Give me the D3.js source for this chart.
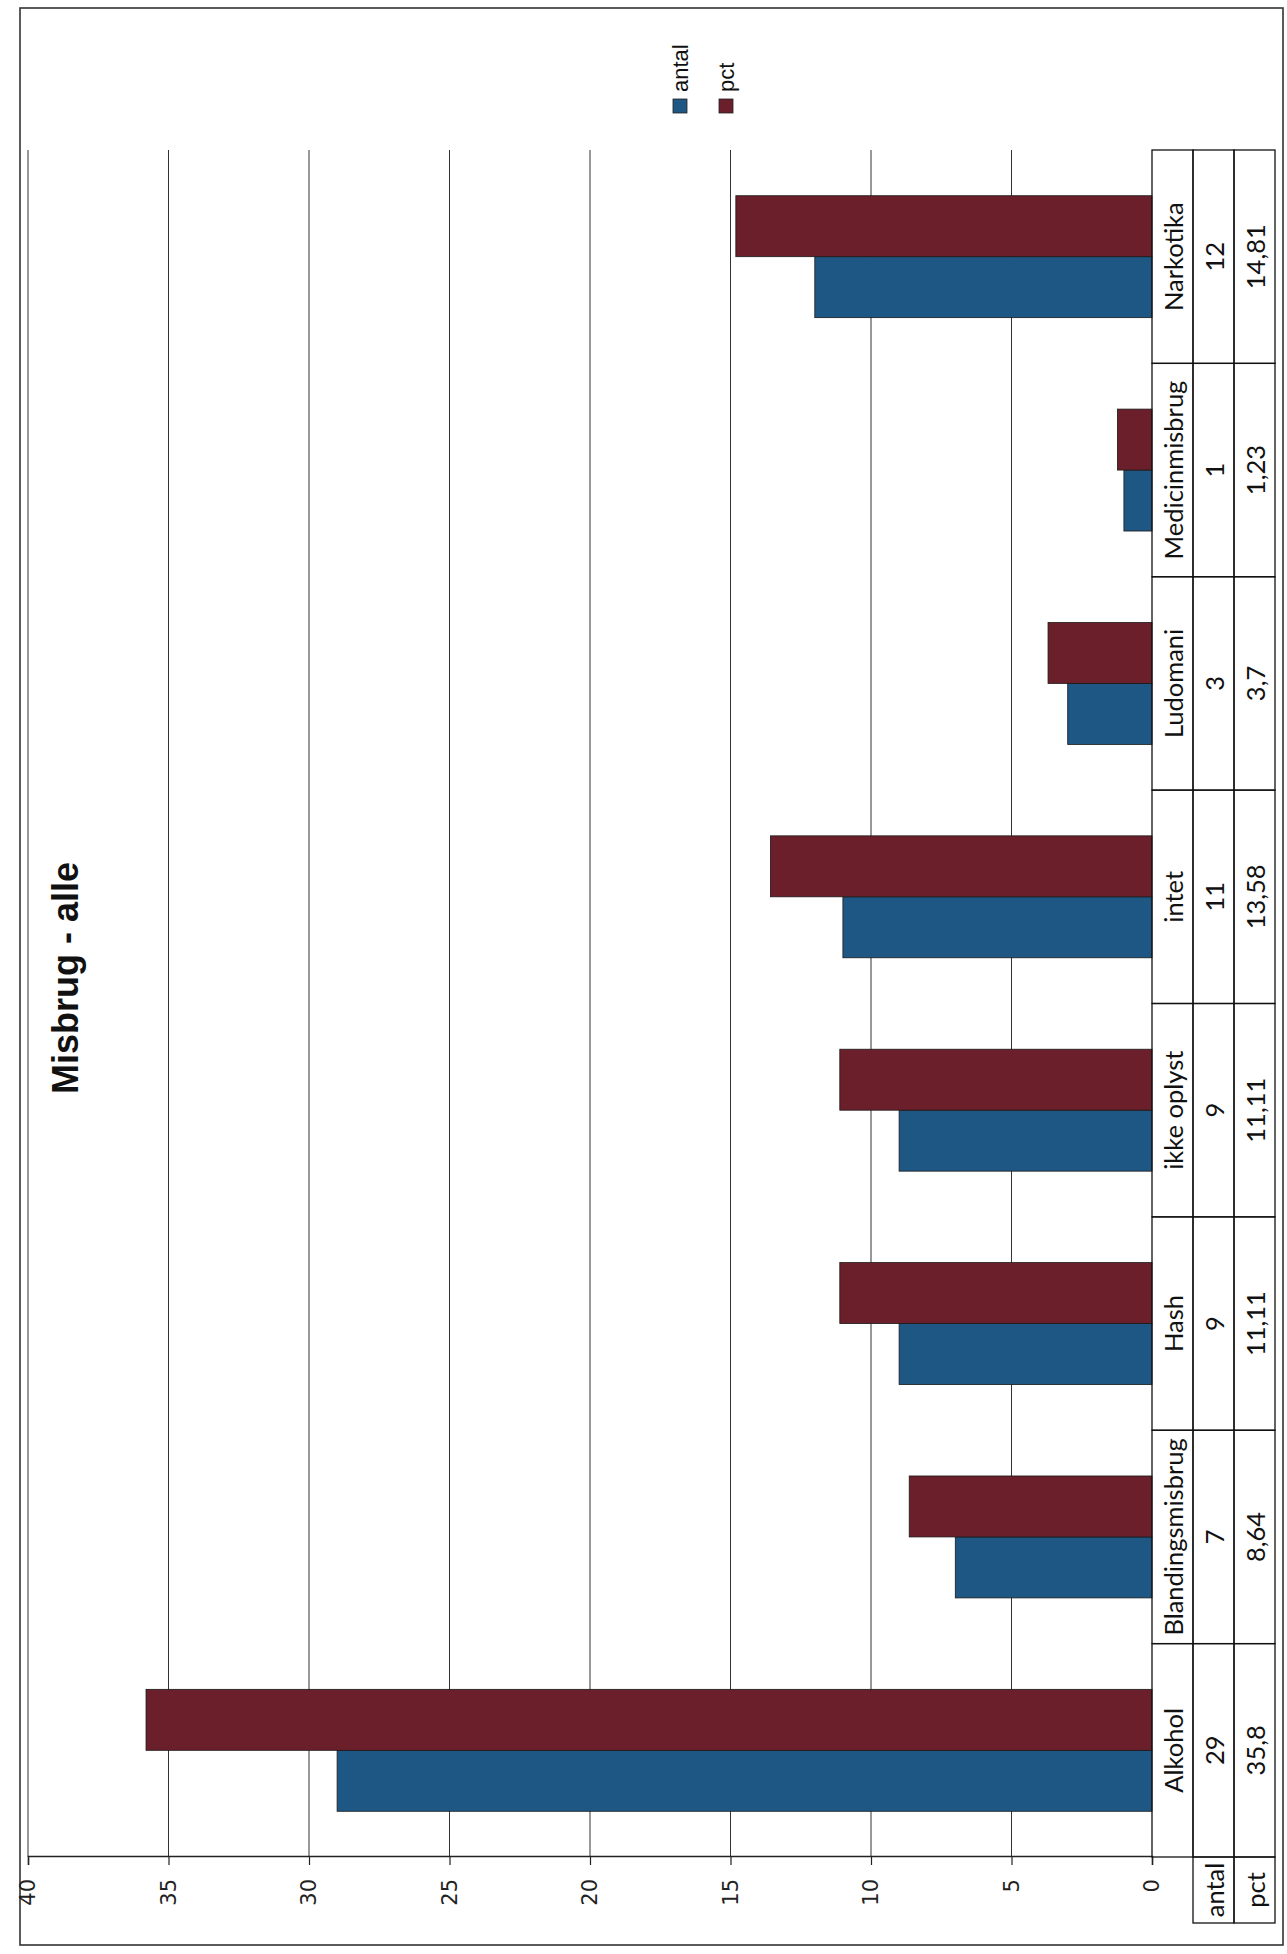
<!DOCTYPE html>
<html><head><meta charset="utf-8">
<script src="https://cdn.jsdelivr.net/npm/d3@7"></script>
<style>body{margin:0;background:#fff}</style>
</head><body><svg id="c" width="1287" height="1954"></svg>
<script>
const categories = ["Alkohol","Blandingsmisbrug","Hash","ikke oplyst","intet","Ludomani","Medicinmisbrug","Narkotika"];
const antal = [29,7,9,9,11,3,1,12];
const pct = [35.8,8.64,11.11,11.11,13.58,3.7,1.23,14.81];
const antalLabels = ["29","7","9","9","11","3","1","12"];
const pctLabels = ["35,8","8,64","11,11","11,11","13,58","3,7","1,23","14,81"];
const seriesNames = ["antal","pct"];
const seriesColors = ["#1e5783","#6b1f2b"];
const yTicks = [0,5,10,15,20,25,30,35,40];
const title = "Misbrug - alle";

const svg = d3.select("#c");
svg.append("rect").attr("width",1287).attr("height",1954).attr("fill","#fff");
// chart is drawn unrotated (1954 wide x 1287 tall) then turned -90deg like the scanned page
const g = svg.append("g").attr("transform","translate(0,1954) rotate(-90)");

const x = d3.scaleBand().domain(categories).range([97,1804]).padding(0);
const y = d3.scaleLinear().domain([0,40]).range([1152,28]);
const bw = x.bandwidth()/3.5;
const xs = d3.scaleBand().domain(seriesNames).range([0,2*bw]).padding(0);

// outer frame
g.append("rect").attr("x",9).attr("y",20).attr("width",1937).attr("height",1263)
  .attr("fill","none").attr("stroke","#333").attr("stroke-width",1.6);

// gridlines
g.append("g").selectAll("line").data(yTicks.filter(d=>d>0)).join("line")
  .attr("x1",97).attr("x2",1804).attr("y1",d=>y(d)).attr("y2",d=>y(d))
  .attr("stroke","#333").attr("stroke-width",1);

// value axis
const axis = d3.axisLeft(y).tickValues(yTicks).tickSize(8).tickPadding(14).tickFormat(d3.format("d"));
const ag = g.append("g").attr("transform","translate(97,0)").call(axis);
ag.select(".domain").attr("stroke","#222").attr("stroke-width",1.5);
ag.selectAll(".tick line").attr("stroke","#222").attr("stroke-width",1.2);
ag.selectAll(".tick text").attr("font-family","'DejaVu Sans'").attr("font-size",21).attr("fill","#222");

// bars
const data = categories.map((c,i)=>({c, vals:[antal[i],pct[i]]}));
const grp = g.append("g").selectAll("g").data(data).join("g")
  .attr("transform",d=>`translate(${x(d.c)+(x.bandwidth()-2*bw)/2},0)`);
grp.selectAll("rect").data(d=>d.vals.map((v,k)=>({v,k}))).join("rect")
  .attr("x",d=>xs(seriesNames[d.k])).attr("width",bw)
  .attr("y",d=>y(d.v)).attr("height",d=>y(0)-y(d.v))
  .attr("fill",d=>seriesColors[d.k]).attr("stroke","#1a1a1a").attr("stroke-width",0.8);

// data table
const t0 = y(0), rh = 41;
const tbl = g.append("g");
const cellFont = "Lato, 'Open Sans', sans-serif";
const cellSize = 25.5;
categories.forEach((c,i)=>{
  for(let r=0;r<3;r++){
    tbl.append("rect").attr("x",x(c)).attr("y",t0+r*rh).attr("width",x.bandwidth()).attr("height",rh)
      .attr("fill","none").attr("stroke","#111").attr("stroke-width",1.3);
  }
  const txt=[c,antalLabels[i],pctLabels[i]];
  txt.forEach((s,r)=>{
    tbl.append("text").attr("x",x(c)+x.bandwidth()/2).attr("y",t0+r*rh+rh/2)
      .attr("text-anchor","middle").attr("dominant-baseline","central")
      .attr("font-family",cellFont).attr("font-size",cellSize).attr("fill","#111").text(s);
  });
});
seriesNames.forEach((s,k)=>{
  tbl.append("rect").attr("x",31).attr("y",t0+(k+1)*rh).attr("width",97-31).attr("height",rh)
    .attr("fill","none").attr("stroke","#111").attr("stroke-width",1.3);
  tbl.append("text").attr("x",64).attr("y",t0+(k+1)*rh+rh/2)
    .attr("text-anchor","middle").attr("dominant-baseline","central")
    .attr("font-family",cellFont).attr("font-size",cellSize).attr("fill","#111").text(s);
});

// title
g.append("text").attr("x",976).attr("y",78).attr("text-anchor","middle")
  .attr("font-family","'Liberation Sans', Arial, sans-serif").attr("font-weight","bold")
  .attr("font-size",36).attr("fill","#111").text(title);

// legend
const leg = g.append("g");
seriesNames.forEach((s,k)=>{
  const cy = 680 + k*46;
  leg.append("rect").attr("x",1841).attr("y",cy-7).attr("width",14).attr("height",14)
    .attr("fill",seriesColors[k]).attr("stroke","#222").attr("stroke-width",0.8);
  leg.append("text").attr("x",1862).attr("y",cy).attr("dominant-baseline","central")
    .attr("font-family","'Liberation Sans', Arial, sans-serif").attr("font-size",22)
    .attr("fill","#111").text(s);
});
</script></body></html>
